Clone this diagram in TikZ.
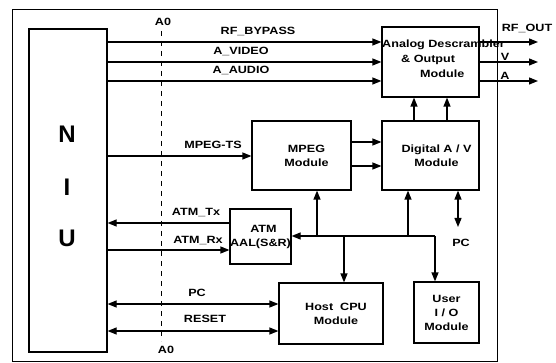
\documentclass[tikz,border=0pt]{standalone}
\usepackage{fontspec}
\setmainfont{Liberation Sans}[FakeStretch=1.2]
\newfontfamily\niufont{Liberation Sans}
\usetikzlibrary{arrows.meta}
\newcommand\txt{\bfseries\fontsize{10.5}{14}\selectfont}
\begin{document}
\begin{tikzpicture}[x=1pt,y=-1pt,
  box/.style={draw, line width=1.2pt, inner sep=0pt, align=center, font=\txt},
  arr/.style={line width=1.2pt, -{Triangle[length=9pt,width=7pt]}},
  darr/.style={line width=1.2pt, {Triangle[length=9pt,width=7pt]}-{Triangle[length=9pt,width=7pt]}},
  lbl/.style={font=\txt, inner sep=0pt}]
\useasboundingbox (0,0) rectangle (556,363);
% frame
\node[draw, line width=0.6pt, minimum width=485, minimum height=352, inner sep=0pt] (frame) at (254.5,185) {};
% boxes
\node[box, minimum width=78, minimum height=323] (niu) at (68,190.5) {};
\node[font=\niufont\bfseries\fontsize{24}{24}\selectfont, inner sep=0pt] (n) at (67,134) {N};
\node[font=\niufont\bfseries\fontsize{24}{24}\selectfont, inner sep=0pt] (i) at (67,187) {I};
\node[font=\niufont\bfseries\fontsize{24}{24}\selectfont, inner sep=0pt] (u) at (67,238) {U};
\node[box, minimum width=97, minimum height=70] (ana) at (430.5,62) {};
\node[lbl, align=left, anchor=west, font=\txt\fontsize{10.5}{15}\selectfont] (analbl) at (382,59) {Analog Descrambler\\\hspace{19pt}\& Output\\\hspace{38pt}Module};
\node[box, minimum width=97, minimum height=69] (dig) at (430.5,155.5) {\hspace{12pt}Digital A / V\\\hspace{12pt}Module};
\node[box, minimum width=99, minimum height=69] (mpeg) at (301.5,155.5) {\hspace{10pt}MPEG\\\hspace{10pt}Module};
\node[box, minimum width=61, minimum height=55] (atm) at (260.5,236.5) {\hspace{6pt}ATM\\AAL(S\&R)};
\node[box, minimum width=104, minimum height=61] (host) at (331,313.5) {\hspace{10pt}Host\ \ CPU\\\hspace{10pt}Module};
\node[box, minimum width=65, minimum height=61] (user) at (446.5,312.5) {User\\I / O\\Module};
% coordinates
\coordinate (yrf) at (0,42);
\coordinate (yvid) at (0,62);
\coordinate (yaud) at (0,81);
\coordinate (yts) at (0,156);
\coordinate (ym1) at (0,142);
\coordinate (ym2) at (0,166);
\coordinate (ytx) at (0,223);
\coordinate (yrx) at (0,250);
\coordinate (ybus) at (0,236);
\coordinate (ypc) at (0,304);
\coordinate (yrst) at (0,331);
\coordinate (xout) at (538,0);
\coordinate (xu1) at (414,0);
\coordinate (xu2) at (447,0);
\coordinate (xpc) at (458,0);
\coordinate (xpcend) at (458,227);
\coordinate (xb1) at (317,0);
\coordinate (xb2) at (344,0);
\coordinate (xb3) at (408,0);
\coordinate (xb4) at (435,0);
\coordinate (busend) at (435,236);
\coordinate (dtop) at (161,31);
\coordinate (dbot) at (161,341);
% A0 dashed line
\draw[line width=0.6pt, dash pattern=on 5pt off 5pt] (dtop) -- (dbot);
\node[lbl] (a0t) at (163,22) {A0};
\node[lbl] (a0b) at (166,350) {A0};
% NIU -> analog
\draw[arr] (niu.east |- yrf) -- (ana.west |- yrf);
\draw[arr] (niu.east |- yvid) -- (ana.west |- yvid);
\draw[arr] (niu.east |- yaud) -- (ana.west |- yaud);
\node[lbl] (lrf) at (258,31) {RF\_BYPASS};
\node[lbl] (lvid) at (241,51) {A\_VIDEO};
\node[lbl] (laud) at (241,70) {A\_AUDIO};
% outputs
\draw[arr] (ana.east |- yrf) -- (xout |- yrf);
\draw[arr] (ana.east |- yvid) -- (xout |- yvid);
\draw[arr] (ana.east |- yaud) -- (xout |- yaud);
\node[lbl] (lrfo) at (527,28) {RF\_OUT};
\node[lbl] (lv) at (505,57) {V};
\node[lbl] (la) at (505,76) {A};
% digital -> analog
\draw[arr] (dig.north -| xu1) -- (ana.south -| xu1);
\draw[arr] (dig.north -| xu2) -- (ana.south -| xu2);
% NIU -> MPEG
\draw[arr] (niu.east |- yts) -- (mpeg.west |- yts);
\node[lbl] (lts) at (213,145) {MPEG-TS};
% MPEG -> digital
\draw[arr] (mpeg.east |- ym1) -- (dig.west |- ym1);
\draw[arr] (mpeg.east |- ym2) -- (dig.west |- ym2);
% ATM
\draw[arr] (atm.west |- ytx) -- (niu.east |- ytx);
\draw[arr] (niu.east |- yrx) -- (atm.west |- yrx);
\node[lbl] (ltx) at (196,213) {ATM\_Tx};
\node[lbl] (lrx) at (198,241) {ATM\_Rx};
% bus
\draw[arr] (busend) -- (atm.east |- ybus);
\draw[arr] (xb1 |- ybus) -- (mpeg.south -| xb1);
\draw[arr] (xb3 |- ybus) -- (dig.south -| xb3);
\draw[arr] (xb2 |- ybus) -- (host.north -| xb2);
\draw[arr] (busend) -- (user.north -| xb4);
% PC from digital
\draw[darr] (dig.south -| xpc) -- (xpcend);
\node[lbl] (lpcr) at (461,243) {PC};
% NIU <-> host
\draw[darr] (niu.east |- ypc) -- (host.west |- ypc);
\draw[darr] (niu.east |- yrst) -- (host.west |- yrst);
\node[lbl] (lpc) at (197,293) {PC};
\node[lbl] (lrst) at (205,319) {RESET};
\end{tikzpicture}
\end{document}
